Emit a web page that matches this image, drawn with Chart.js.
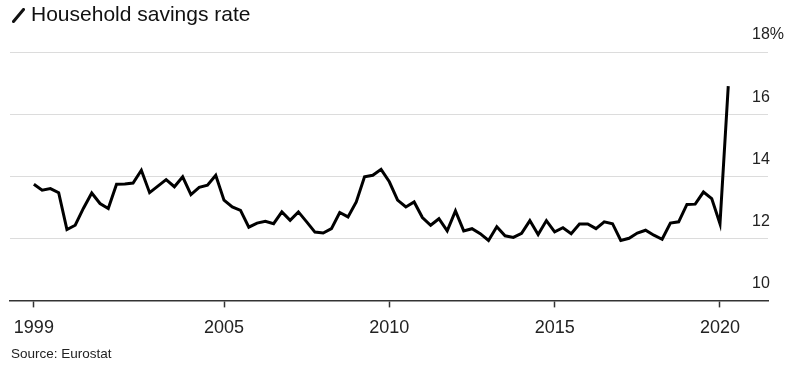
<!DOCTYPE html>
<html>
<head>
<meta charset="utf-8">
<script src="https://cdn.jsdelivr.net/npm/chart.js@4.4.1/dist/chart.umd.min.js"></script>
<style>
  html, body { margin: 0; padding: 0; background: #fff; }
  #wrap { position: relative; width: 792px; height: 365px; overflow: hidden; }
  #title { position: absolute; left: 12px; top: 2px; font-family: "Liberation Sans", Arial, sans-serif; font-size: 21px; color: #111; line-height: 24px; white-space: nowrap; }
  #title svg { vertical-align: -2px; margin-right: 6px; }
  #source { position: absolute; left: 11px; top: 346px; font-family: "Liberation Sans", Arial, sans-serif; font-size: 13.5px; color: #222; line-height: 16px; white-space: nowrap; }
  canvas { position: absolute; left: 0; top: 0; }
</style>
</head>
<body>
<div id="wrap">
  <canvas id="c" width="792" height="365"></canvas>
  <div id="title"><svg width="13" height="15" viewBox="0 0 13 15"><line x1="1.5" y1="13.5" x2="11.5" y2="1.5" stroke="#111" stroke-width="3" stroke-linecap="round"/></svg>Household savings rate</div>
  <div id="source">Source: Eurostat</div>
</div>
<script>
// Quarterly household savings rate (%), 1999 Q1 .. 2020 Q1
const startYear = 1999;
const savingsRate = [
  13.74, 13.55, 13.60, 13.47,   // 1999
  12.28, 12.42, 12.97, 13.46,   // 2000
  13.12, 12.96, 13.74, 13.75,   // 2001
  13.78, 14.19, 13.47, 13.68,   // 2002
  13.89, 13.66, 13.98, 13.41,   // 2003
  13.64, 13.71, 14.03, 13.23,   // 2004
  13.01, 12.90, 12.36, 12.49,   // 2005
  12.55, 12.47, 12.85, 12.58,   // 2006
  12.85, 12.53, 12.20, 12.17,   // 2007
  12.31, 12.83, 12.69, 13.17,   // 2008
  13.98, 14.03, 14.22, 13.82,   // 2009
  13.23, 13.01, 13.17, 12.67,   // 2010
  12.42, 12.63, 12.24, 12.88,   // 2011
  12.24, 12.31, 12.15, 11.93,   // 2012
  12.37, 12.08, 12.03, 12.16,   // 2013
  12.57, 12.12, 12.57, 12.21,   // 2014
  12.34, 12.15, 12.46, 12.46,   // 2015
  12.31, 12.53, 12.47, 11.93,   // 2016
  12.00, 12.17, 12.26, 12.10,   // 2017
  11.97, 12.49, 12.53, 13.09,   // 2018
  13.10, 13.49, 13.28, 12.47,   // 2019
  16.90                          // 2020
];
const tickYears = [1999, 2005, 2010, 2015, 2020];
const tickLabels = ['1999', '2005', '2010', '2015', '2020'];
const yTicks = [10, 12, 14, 16, 18];

// quarter-end position on a continuous year axis
const quarterX = savingsRate.map((v, i) => startYear + (i + 1) / 4);
const points = savingsRate.map((v, i) => ({ x: quarterX[i], y: v }));
const firstX = quarterX[0];

const sans = '"Liberation Sans", Arial, sans-serif';

new Chart(document.getElementById('c'), {
  type: 'line',
  data: {
    datasets: [{
      data: points,
      borderColor: '#000',
      borderWidth: 3,
      pointRadius: 0,
      tension: 0,
      borderJoinStyle: 'miter',
      fill: false
    }]
  },
  options: {
    responsive: false,
    animation: false,
    events: [],
    layout: { padding: { left: 10, right: -8, top: 52, bottom: 16 } },
    plugins: { legend: { display: false }, tooltip: { enabled: false } },
    scales: {
      x: {
        type: 'linear',
        min: 1998.528,
        max: 2021.452,
        afterBuildTicks: (s) => { s.ticks = tickYears.map(y => ({ value: Math.max(y, firstX) })); },
        grid: { drawOnChartArea: false, drawTicks: true, tickLength: 7, tickColor: '#333', tickWidth: 1.5 },
        border: { display: true, color: '#333', width: 1.5 },
        ticks: {
          autoSkip: false, maxRotation: 0, padding: 10, color: '#222',
          font: { family: sans, size: 18 },
          callback: (v, i) => tickLabels[i]
        }
      },
      y: {
        position: 'right',
        min: 10,
        max: 18,
        afterBuildTicks: (s) => { s.ticks = yTicks.map(v => ({ value: v })); },
        grid: { color: '#dcdcdc', lineWidth: 1, drawTicks: false },
        border: { display: false },
        ticks: {
          mirror: true, crossAlign: 'far',
          padding: 16, labelOffset: -17, color: '#222',
          font: { family: sans, size: 16 },
          callback: (v) => v === 18 ? v + '%' : String(v)
        }
      }
    }
  }
});
</script>
</body>
</html>
